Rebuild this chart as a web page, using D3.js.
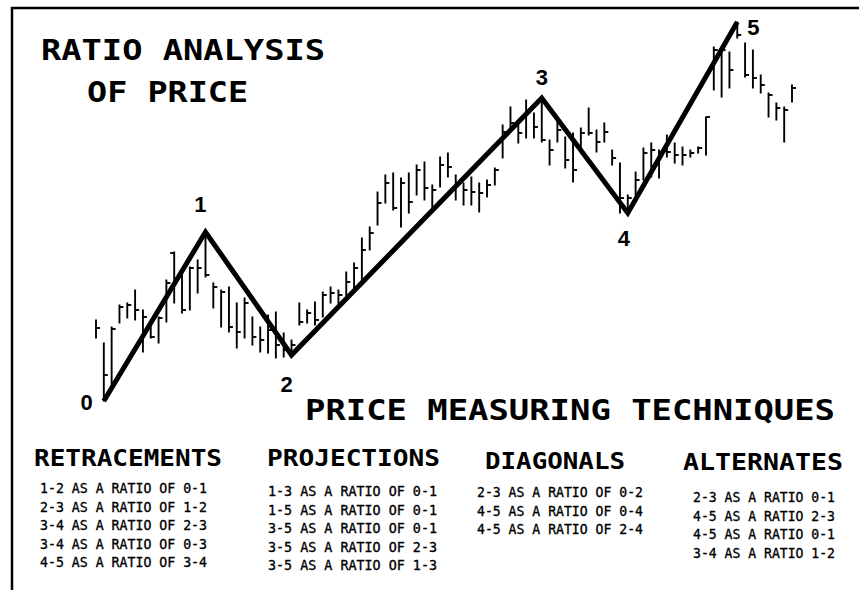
<!DOCTYPE html>
<html>
<head>
<meta charset="utf-8">
<script src="https://cdn.jsdelivr.net/npm/d3@7"></script>
<style>
  html, body { margin: 0; padding: 0; background: #fff; }
  svg { display: block; }
</style>
</head>
<body>
<svg id="chart" width="859" height="590"></svg>
<script>
// daily price bars (chart price units), one entry per trading day
const highs = [100, 77, 93, 115, 117, 130, 110, 100, 103, 140,
  168, 148, 153, 160, 188, 137, 130, 133, 117, 122,
  103, 93, 105, 108, 87, 80, 117, 110, 118, 128,
  133, 130, 148, 157, 182, 193, 228, 245, 247, 242,
  247, 255, 258, 235, 263, 267, 245, 237, 243, 237,
  240, 252, 295, 313, 295, 320, 307, 322, 280, 298,
  283, 287, 292, 312, 290, 297, 270, 257, 225, 248,
  272, 277, 270, 285, 277, 273, 270, 273, 303, 373,
  373, 368, 398, 377, 370, 345, 327, 317, 313, 335];
const lows = [82, 19, 30, 97, 102, 100, 68, 82, 77, 98,
  117, 107, 110, 127, 143, 112, 93, 88, 72, 82,
  75, 68, 67, 62, 63, 65, 95, 97, 95, 103,
  117, 113, 123, 130, 137, 170, 195, 217, 210, 193,
  207, 225, 220, 212, 233, 243, 220, 215, 215, 208,
  223, 235, 262, 288, 277, 282, 282, 278, 255, 278,
  252, 238, 273, 285, 268, 278, 255, 207, 207, 225,
  240, 243, 242, 263, 257, 255, 263, 267, 265, 330,
  323, 332, 382, 343, 332, 327, 303, 300, 278, 318];
const closes = [92, 45, 91, 113, 115, 110, 103, 83, 102, 137,
  null, 110, 152, 152, 145, 133, 128, 93, 88, 117,
  83, 80, 90, 75, 70, 75, 98, 107, 100, 125,
  127, 125, 138, 152, 170, 187, 217, 237, 212, 237,
  218, 250, 232, 230, 255, 253, 237, 230, 228, 227,
  235, 250, 288, 297, 287, 307, 293, 280, 270, 290,
  260, 250, 287, 287, 278, 288, 262, 222, 222, 240,
  267, 270, 267, 268, 265, 265, 267, 272, 303, 370,
  370, 350, 385, 345, 342, 335, 325, 312, 310, 332];
// left-hand (opening) ticks, only where the picture shows one
const opens = {10: 167};

// Elliott wave turning points
const waveLabels = ["0", "1", "2", "3", "4", "5"];
const waveDays = [1, 14, 25, 57, 68, 82];
const wavePrices = [19, 188, 65, 322, 207, 398];

const titleLines = ["RATIO ANALYSIS", "OF PRICE"];
const subtitle = "PRICE MEASURING TECHNIQUES";
const groupTitles = ["RETRACEMENTS", "PROJECTIONS", "DIAGONALS", "ALTERNATES"];
const retracements = ["1-2 AS A RATIO OF 0-1", "2-3 AS A RATIO OF 1-2",
  "3-4 AS A RATIO OF 2-3", "3-4 AS A RATIO OF 0-3", "4-5 AS A RATIO OF 3-4"];
const projections = ["1-3 AS A RATIO OF 0-1", "1-5 AS A RATIO OF 0-1",
  "3-5 AS A RATIO OF 0-1", "3-5 AS A RATIO OF 2-3", "3-5 AS A RATIO OF 1-3"];
const diagonals = ["2-3 AS A RATIO OF 0-2", "4-5 AS A RATIO OF 0-4",
  "4-5 AS A RATIO OF 2-4"];
const alternates = ["2-3 AS A RATIO 0-1", "4-5 AS A RATIO 2-3",
  "4-5 AS A RATIO 0-1", "3-4 AS A RATIO 1-2"];

const svg = d3.select("#chart");

const xScale = d3.scaleLinear().domain([0, highs.length - 1]).range([96, 792]);
const yScale = d3.scaleLinear().domain([0, 400]).range([420, 20]);

// frame (only left and top edges show in the scan)
svg.append("path")
  .attr("d", "M12,590V8H859")
  .attr("fill", "none")
  .attr("stroke", "#000")
  .attr("stroke-width", 2.5);

// price bars
const bars = svg.append("g").attr("stroke", "#000").attr("stroke-width", 1.9);

bars.selectAll(".hl")
  .data(highs)
  .enter()
  .append("line")
  .attr("x1", (d, i) => xScale(i))
  .attr("x2", (d, i) => xScale(i))
  .attr("y1", (d) => yScale(d) - 0.5)
  .attr("y2", (d, i) => yScale(lows[i]) + 0.5);

bars.selectAll(".close")
  .data(closes.map((c, i) => ({ i, c })).filter((d) => d.c !== null))
  .enter()
  .append("line")
  .attr("x1", (d) => xScale(d.i))
  .attr("x2", (d) => xScale(d.i) + 4)
  .attr("y1", (d) => yScale(d.c))
  .attr("y2", (d) => yScale(d.c));

bars.selectAll(".open")
  .data(Object.entries(opens))
  .enter()
  .append("line")
  .attr("x1", (d) => xScale(+d[0]) - 4)
  .attr("x2", (d) => xScale(+d[0]))
  .attr("y1", (d) => yScale(d[1]))
  .attr("y2", (d) => yScale(d[1]));

// wave line
const line = d3.line()
  .x((d, i) => xScale(waveDays[i]))
  .y((d) => yScale(d));

svg.append("path")
  .datum(wavePrices)
  .attr("d", line)
  .attr("fill", "none")
  .attr("stroke", "#000")
  .attr("stroke-width", 5)
  .attr("stroke-linejoin", "miter")
  .attr("stroke-miterlimit", 10);

// wave numbers
const labelOffset = {
  "0": [-11, 9, "end"], "1": [-5, -20, "middle"], "2": [-5, 37, "middle"],
  "3": [0, -13, "middle"], "4": [-4, 33, "middle"], "5": [10, 13, "start"]
};

svg.selectAll(".wave")
  .data(waveLabels)
  .enter()
  .append("text")
  .attr("x", (d, i) => xScale(waveDays[i]) + labelOffset[d][0])
  .attr("y", (d, i) => yScale(wavePrices[i]) + labelOffset[d][1])
  .attr("text-anchor", (d) => labelOffset[d][2])
  .style("font-family", "Liberation Sans, Arial, sans-serif")
  .style("font-weight", "bold")
  .style("font-size", "22px")
  .text((d) => d);

// big headings
const bigFont = (sel) => sel
  .style("font-family", "DejaVu Sans Mono, monospace")
  .style("font-weight", "bold")
  .style("font-size", "28px")
  .attr("lengthAdjust", "spacingAndGlyphs");

svg.append("text").attr("x", 41).attr("y", 60).attr("textLength", 284)
  .call(bigFont).text(titleLines[0]);
svg.append("text").attr("x", 87).attr("y", 102).attr("textLength", 161)
  .call(bigFont).text(titleLines[1]);
svg.append("text").attr("x", 305).attr("y", 420).attr("textLength", 530)
  .call(bigFont).text(subtitle);

// technique columns
const columns = [
  { title: groupTitles[0], items: retracements, tx: 34, ty: 466, tw: 188, ix: 40, iy: 493, iw: 167 },
  { title: groupTitles[1], items: projections, tx: 267, ty: 466, tw: 173, ix: 268, iy: 496, iw: 169 },
  { title: groupTitles[2], items: diagonals, tx: 485, ty: 469, tw: 140, ix: 477, iy: 497, iw: 166 },
  { title: groupTitles[3], items: alternates, tx: 683, ty: 470, tw: 160, ix: 693, iy: 502, iw: 142 }
];

columns.forEach((col) => {
  svg.append("text")
    .attr("x", col.tx)
    .attr("y", col.ty)
    .attr("textLength", col.tw)
    .attr("lengthAdjust", "spacingAndGlyphs")
    .style("font-family", "DejaVu Sans Mono, monospace")
    .style("font-weight", "bold")
    .style("font-size", "23px")
    .text(col.title);

  svg.selectAll(null)
    .data(col.items)
    .enter()
    .append("text")
    .attr("x", col.ix)
    .attr("y", (d, i) => col.iy + i * 18.5)
    .attr("textLength", (d) => col.iw * d.length / col.items[0].length)
    .attr("lengthAdjust", "spacingAndGlyphs")
    .attr("stroke", "#000")
    .attr("stroke-width", 0.35)
    .style("font-family", "DejaVu Sans Mono, monospace")
    .style("font-size", "14.5px")
    .text((d) => d);
});
</script>
</body>
</html>
